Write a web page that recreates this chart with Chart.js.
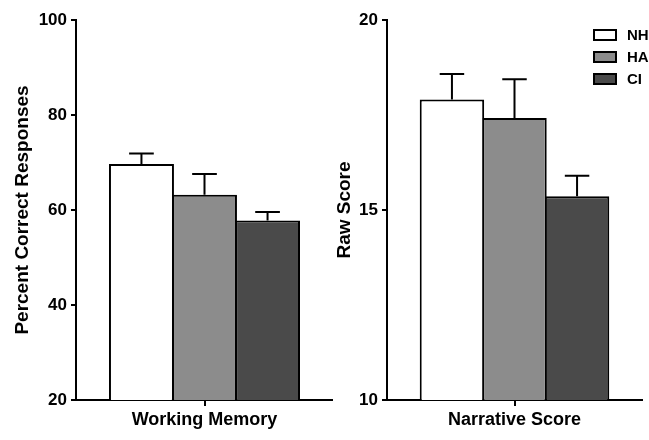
<!DOCTYPE html>
<html>
<head>
<meta charset="utf-8">
<script src="https://cdn.jsdelivr.net/npm/chart.js@4.4.0/dist/chart.umd.min.js"></script>
<style>
  body { margin: 0; background: #fff; width: 649px; height: 440px; position: relative; overflow: hidden; }
  #left { position: absolute; left: 0; top: 0; width: 333px; height: 440px; }
  #right { position: absolute; left: 333px; top: 0; width: 316px; height: 440px; }
</style>
</head>
<body>
<div id="left"><canvas id="wmChart"></canvas></div>
<div id="right"><canvas id="nsChart"></canvas></div>
<script>
const groups = ['NH', 'HA', 'CI'];
const groupColors = ['#ffffff', '#8c8c8c', '#4a4a4a'];

const wmLabels = ['Working Memory'];
const wmMeans = [69.7, 63.2, 57.8];
const wmErrors = [2.2, 4.4, 1.8];
const wmTicks = [20, 40, 60, 80, 100];

const nsLabels = ['Narrative Score'];
const nsMeans = [17.91, 17.42, 15.36];
const nsErrors = [0.67, 1.02, 0.54];
const nsTicks = [10, 15, 20];

const FONT = '"Liberation Sans", Arial, sans-serif';

// error bars drawn on top of each bar, going up only
const errorBars = {
    id: 'errorBars',
    afterDatasetsDraw(chart) {
        const ctx = chart.ctx;
        const y = chart.scales.y;
        ctx.save();
        ctx.strokeStyle = '#000';
        ctx.lineWidth = 2;
        chart.data.datasets.forEach((ds, i) => {
            const bar = chart.getDatasetMeta(i).data[0];
            const top = y.getPixelForValue(ds.data[0] + ds.errors[0]);
            const half = bar.width * 0.19;
            ctx.beginPath();
            ctx.moveTo(bar.x, bar.y);
            ctx.lineTo(bar.x, top);
            ctx.moveTo(bar.x - half, top);
            ctx.lineTo(bar.x + half, top);
            ctx.stroke();
        });
        ctx.restore();
    }
};

// small legend inside the top right corner of the plot
const boxLegend = {
    id: 'boxLegend',
    afterDraw(chart) {
        const ctx = chart.ctx;
        const a = chart.chartArea;
        ctx.save();
        ctx.font = 'bold 15px ' + FONT;
        ctx.textBaseline = 'middle';
        ctx.textAlign = 'left';
        chart.data.datasets.forEach((ds, i) => {
            const bx = a.right - 48;
            const by = a.top + 10 + i * 22;
            ctx.fillStyle = ds.backgroundColor;
            ctx.fillRect(bx, by, 22, 10);
            ctx.strokeStyle = '#000';
            ctx.lineWidth = 2;
            ctx.strokeRect(bx, by, 22, 10);
            ctx.fillStyle = '#000';
            ctx.fillText(ds.label, a.right - 15, by + 5.5);
        });
        ctx.restore();
    }
};

function makeChart(id, labels, means, errors, ticks, yTitle, yAxisWidth, titlePad, padRight, legend) {
    const ctx = document.getElementById(id).getContext('2d');
    return new Chart(ctx, {
        type: 'bar',
        data: {
            labels: labels,
            datasets: groups.map((g, i) => ({
                label: g,
                data: [means[i]],
                errors: [errors[i]],
                backgroundColor: groupColors[i],
                borderColor: '#000',
                borderWidth: 2,
                borderSkipped: false,
                categoryPercentage: 0.736,
                barPercentage: 1.03 // slight overlap so neighbours share one edge
            }))
        },
        options: {
            responsive: true,
            maintainAspectRatio: false,
            animation: false,
            layout: { padding: { top: 20, right: padRight, left: 0, bottom: 0 } },
            plugins: {
                legend: { display: false },
                tooltip: { enabled: false }
            },
            scales: {
                x: {
                    grid: { offset: false, drawOnChartArea: false, drawTicks: true, tickLength: 6, color: '#000', lineWidth: 2 },
                    border: { display: true, color: '#000', width: 2 },
                    ticks: { color: '#000', font: { family: FONT, size: 18, weight: 'bold' }, padding: 3, maxRotation: 0 },
                    afterFit: s => { s.height = 40; }
                },
                y: {
                    min: ticks[0],
                    max: ticks[ticks.length - 1],
                    afterBuildTicks: s => { s.ticks = ticks.map(v => ({ value: v })); },
                    grid: { drawOnChartArea: false, drawTicks: true, tickLength: 5, color: '#000', lineWidth: 2 },
                    border: { display: true, color: '#000', width: 2 },
                    ticks: { color: '#000', font: { family: FONT, size: 17, weight: 'bold' }, padding: 4 },
                    title: {
                        display: true,
                        text: yTitle,
                        color: '#000',
                        font: { family: FONT, size: 19, weight: 'bold' },
                        padding: { top: titlePad, bottom: 0 }
                    },
                    afterFit: s => { s.width = yAxisWidth; }
                }
            }
        },
        plugins: legend ? [errorBars, boxLegend] : [errorBars]
    });
}

makeChart('wmChart', wmLabels, wmMeans, wmErrors, wmTicks, 'Percent Correct Responses', 76, 11, 0, false);
makeChart('nsChart', nsLabels, nsMeans, nsErrors, nsTicks, 'Raw Score', 54, 0, 7, true);
</script>
</body>
</html>
